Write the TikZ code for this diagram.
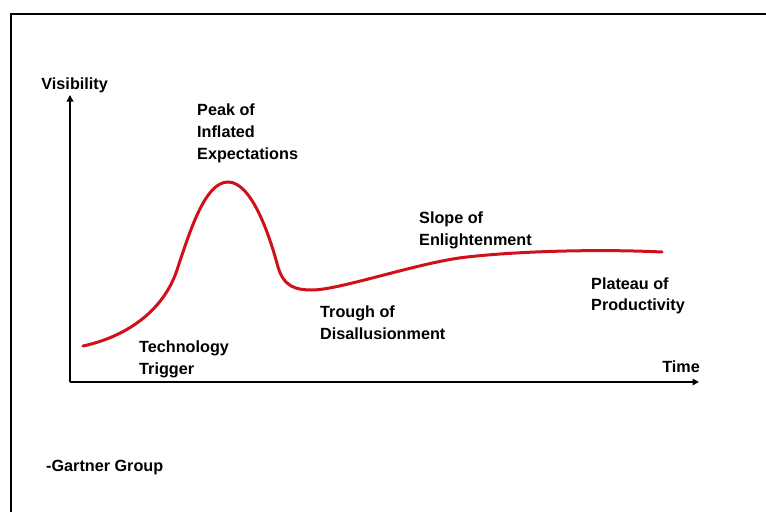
\documentclass[tikz,border=0pt]{standalone}
\usepackage{fontspec}
\setmainfont{Liberation Sans}
\usetikzlibrary{arrows.meta}
\definecolor{hypered}{RGB}{208,16,26}
\begin{document}
\begin{tikzpicture}[x=1pt,y=-1pt,
  lbl/.style={font=\bfseries\fontsize{16.2}{22}\selectfont,inner sep=0pt,anchor=base west,align=left},
  axis/.style={line width=2.8pt,-{Triangle[length=6.5pt,width=6.5pt]}},
  frame/.style={line width=2.5pt}]
\useasboundingbox (0,0) rectangle (766,512);
\draw[frame] (11,512) -- (11,14) -- (766,14);
\coordinate (O) at (70,382);
\coordinate (ytip) at (70,95);
\coordinate (xtip) at (699,382);
\draw[axis] (O) -- (ytip);
\draw[axis] (O) -- (xtip);
\draw[hypered,line width=3pt,line cap=round]
 (83,346) .. controls (125,337) and (163,312) .. (177,270)
 .. controls (190,231) and (205,182) .. (228,182)
 .. controls (252,182) and (270,237) .. (278,267)
 .. controls (284,287) and (296,290) .. (312,290)
 .. controls (340,290) and (420,262) .. (467,257)
 .. controls (520,251) and (600,249) .. (662,252);
\node[lbl,anchor=base east] (vis) at (108,89) {Visibility};
\node[lbl] (peak) at (197,115) {Peak of};
\node[lbl] (peak2) at (197,137) {Inflated};
\node[lbl] (peak3) at (197,159) {Expectations};
\node[lbl] (tech) at (139,352) {Technology};
\node[lbl] (tech2) at (139,374) {Trigger};
\node[lbl] (trough) at (320,317) {Trough of};
\node[lbl] (trough2) at (320,339) {Disallusionment};
\node[lbl] (slope) at (419,223) {Slope of};
\node[lbl] (slope2) at (419,245) {Enlightenment};
\node[lbl] (plat) at (591,289) {Plateau of};
\node[lbl] (plat2) at (591,310) {Productivity};
\node[lbl,anchor=base east] (time) at (700,372) {Time};
\node[lbl] (gartner) at (46,471) {-Gartner Group};
\end{tikzpicture}
\end{document}
